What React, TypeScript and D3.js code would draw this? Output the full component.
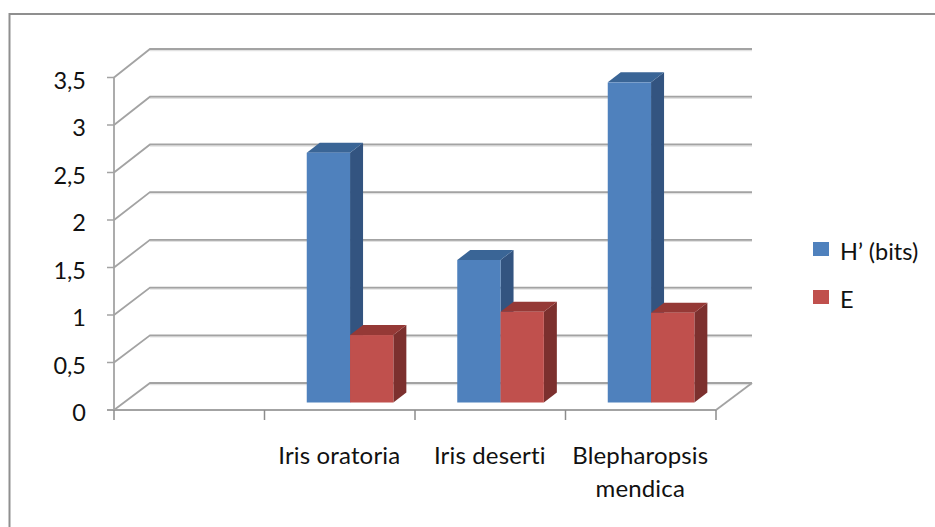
import React from "react";
import * as d3 from "d3";

const categories = ["", "Iris oratoria", "Iris deserti", "Blepharopsis mendica"];
const categoryLines = [[], ["Iris oratoria"], ["Iris deserti"], ["Blepharopsis", "mendica"]];
const shannon = [null, 2.63, 1.5, 3.37];
const evenness = [null, 0.71, 0.955, 0.945];
const yTicks = [0, 0.5, 1, 1.5, 2, 2.5, 3, 3.5];
const yLabels = ["0", "0,5", "1", "1,5", "2", "2,5", "3", "3,5"];

const WIDTH = 935;
const HEIGHT = 527;
const FONT = "Lato, 'Noto Sans', sans-serif";
const GRID = "#a3a3a3";
const GRID_SHADOW = "#e2e2e2";
const TEXT = "#111";

const x = d3.scaleBand<string>().domain(categories).range([114, 716]);
const y = d3.scaleLinear().domain([0, 3.5]).range([410, 77.5]);
// The back wall sits further away, so it has its own vertical scale
const yBack = d3.scaleLinear().domain([0, 3.5]).range([383, 49]);
const yBar = d3.scaleLinear().domain([0, 3.5]).range([402.5, 70]);

const wallDx = 36;
const barDx = 13;
const barDy = -10;
const barW = 43.3;

const poly = (pts: number[][]) => pts.map((p) => p.join(",")).join(" ");

function Bar({ left, value, front, top, side }: { left: number; value: number; front: string; top: string; side: string }) {
  const yTop = yBar(value);
  const base = yBar(0);
  return (
    <g>
      <polygon
        points={poly([[left + barW, yTop], [left + barW + barDx, yTop + barDy], [left + barW + barDx, base + barDy], [left + barW, base]])}
        fill={side}
      />
      <polygon
        points={poly([[left, yTop], [left + barDx, yTop + barDy], [left + barW + barDx, yTop + barDy], [left + barW, yTop]])}
        fill={top}
      />
      <rect x={left} y={yTop} width={barW} height={base - yTop} fill={front} />
    </g>
  );
}

export default function App() {
  const x0 = 114;
  const x1 = 716;
  return (
    <svg
      width={WIDTH}
      height={HEIGHT}
      viewBox={`0 0 ${WIDTH} ${HEIGHT}`}
      style={{ position: "absolute", left: 0, top: 0, background: "#fff", fontVariantLigatures: "none" }}
      fontFamily={FONT}
    >
      {/* Chart area border, open towards the right and the bottom */}
      <polyline points={poly([[9.5, HEIGHT], [9.5, 14], [WIDTH, 14]])} fill="none" stroke="#8f8f8f" strokeWidth={2} />

      {/* Back wall gridlines and side-wall diagonals */}
      {yTicks.map((t) => (
        <g key={t} fill="none">
          <line x1={x0 + wallDx} y1={yBack(t) + 1.2} x2={x1 + wallDx} y2={yBack(t) + 1.2} stroke={GRID_SHADOW} strokeWidth={2} />
          <polyline points={poly([[x0, y(t)], [x0 + wallDx, yBack(t)], [x1 + wallDx, yBack(t)]])} stroke={GRID} strokeWidth={1.8} />
        </g>
      ))}
      <line x1={x1} y1={y(0)} x2={x1 + wallDx} y2={yBack(0)} stroke={GRID} strokeWidth={1.8} />

      {/* Value axis */}
      <line x1={x0} y1={y(3.5)} x2={x0} y2={y(0)} stroke={GRID} strokeWidth={1.8} />
      {yTicks.map((t, i) => (
        <g key={t}>
          <line x1={x0 - 7} y1={y(t)} x2={x0} y2={y(t)} stroke={GRID} strokeWidth={1.5} />
          <text x={86} y={y(t) + 11} textAnchor="end" fontSize={23.5} fill={TEXT}>
            {yLabels[i]}
          </text>
        </g>
      ))}

      {/* Category axis */}
      <line x1={x0 - 7} y1={y(0)} x2={x1} y2={y(0)} stroke={GRID} strokeWidth={1.8} />
      {categories.map((c) => (
        <line key={`t${c}`} x1={x(c)!} y1={y(0)} x2={x(c)!} y2={y(0) + 10} stroke="#8c8c8c" strokeWidth={1.5} />
      ))}
      <line x1={x1} y1={y(0)} x2={x1} y2={y(0) + 10} stroke="#8c8c8c" strokeWidth={1.5} />

      {/* Columns */}
      {categories.map((c, i) => {
        const s = shannon[i];
        const e = evenness[i];
        if (s == null || e == null) return null;
        const mid = x(c)! + x.bandwidth() / 2 + 10.3;
        return (
          <g key={c}>
            <Bar left={mid - barW} value={s} front="#4f81bd" top="#3a6596" side="#335480" />
            <Bar left={mid} value={e} front="#c0504d" top="#953936" side="#7c302e" />
          </g>
        );
      })}

      {/* Category labels */}
      {categories.map((c, i) =>
        categoryLines[i].map((line, j) => (
          <text key={line} x={x(c)! + x.bandwidth() / 2 - 0.5} y={464 + j * 33} textAnchor="middle" fontSize={24} letterSpacing={0.15} fill={TEXT}>
            {line}
          </text>
        ))
      )}

      {/* Legend */}
      <rect x={813} y={242} width={16} height={14} fill="#4f81bd" />
      <text x={840} y={260} fontSize={23.5} fill={TEXT}>H’ (bits)</text>
      <rect x={813} y={290} width={16} height={14} fill="#c0504d" />
      <text x={840} y={308} fontSize={23.5} fill={TEXT}>E</text>
    </svg>
  );
}
